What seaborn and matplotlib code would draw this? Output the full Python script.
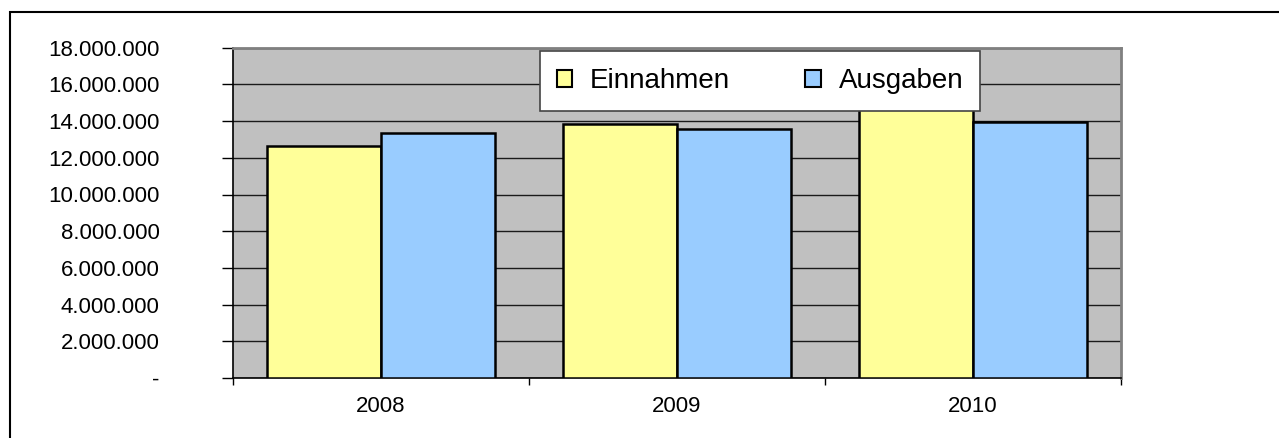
import matplotlib
matplotlib.use('Agg')
import matplotlib.pyplot as plt
import matplotlib.ticker as mticker
from matplotlib.patches import Rectangle
import pandas as pd
import seaborn as sns

# Daten
jahre = ['2008', '2009', '2010']
einnahmen = [12660000, 13830000, 14900000]
ausgaben = [13330000, 13550000, 13970000]
serien = ['Einnahmen', 'Ausgaben']
farben = ['#FFFF99', '#99CCFF']

df = pd.DataFrame({
    'Jahr': jahre * 2,
    'Wert': einnahmen + ausgaben,
    'Art': [serien[0]] * 3 + [serien[1]] * 3,
})

sns.set_style('white')
plt.rcParams['font.family'] = ['Liberation Sans', 'DejaVu Sans']
plt.rcParams['text.color'] = 'black'
plt.rcParams['xtick.color'] = 'black'
plt.rcParams['ytick.color'] = 'black'

fig = plt.figure(figsize=(12.79, 4.38), dpi=100)
ax = fig.add_axes([233 / 1279, 1 - 378 / 438, (1121 - 233) / 1279, (378 - 47.7) / 438])

sns.barplot(data=df, x='Jahr', y='Wert', hue='Art', palette=farben, saturation=1,
            edgecolor='black', linewidth=1.8, width=0.77, ax=ax, zorder=3)

ax.set_facecolor('#C0C0C0')
ax.set_xlim(-0.5, 2.5)
ax.set_ylim(0, 18000000)
ax.yaxis.set_major_locator(mticker.MultipleLocator(2000000))
ax.yaxis.set_major_formatter(mticker.FuncFormatter(
    lambda v, p: '-' if v == 0 else f'{int(v):,}'.replace(',', '.')))
ax.grid(axis='y', color='#1a1a1a', linewidth=1, zorder=0)
ax.set_axisbelow(True)

ax.set_xlabel('')
ax.set_ylabel('')
ax.tick_params(axis='y', direction='out', length=8, width=1, color='black',
               labelsize=16, pad=45, left=True)
ax.tick_params(axis='x', which='major', length=0, labelsize=16, pad=13)
ax.set_xticks([-0.5, 0.5, 1.5, 2.5], minor=True)
ax.tick_params(axis='x', which='minor', direction='out', length=5, width=1, color='black', bottom=True)

for side in ['left', 'bottom']:
    ax.spines[side].set_color('black')
    ax.spines[side].set_linewidth(1.2)
for side in ['top', 'right']:
    ax.spines[side].set_visible(True)
    ax.spines[side].set_color('#808080')
    ax.spines[side].set_linewidth(2)

leg = ax.legend(loc='center', bbox_to_anchor=(760 / 1279, 1 - 81 / 438),
                bbox_transform=fig.transFigure, ncol=2, fontsize=20,
                frameon=True, fancybox=False, framealpha=1,
                handlelength=0.55, handleheight=0.55, handletextpad=0.65,
                columnspacing=2.7, borderpad=0.6)
leg.get_frame().set_edgecolor('#444444')
leg.get_frame().set_linewidth(1.2)
for h in leg.legend_handles:
    h.set_edgecolor('black')
    h.set_linewidth(1.5)
leg.set_zorder(10)

# Rahmen um das Diagramm
fig.patches.append(Rectangle((9.5 / 1279, -0.1), 1.2, 1 - 12 / 438 + 0.1,
                             transform=fig.transFigure, fill=False,
                             edgecolor='black', linewidth=1.5))

fig.savefig('out.png', dpi=100)
